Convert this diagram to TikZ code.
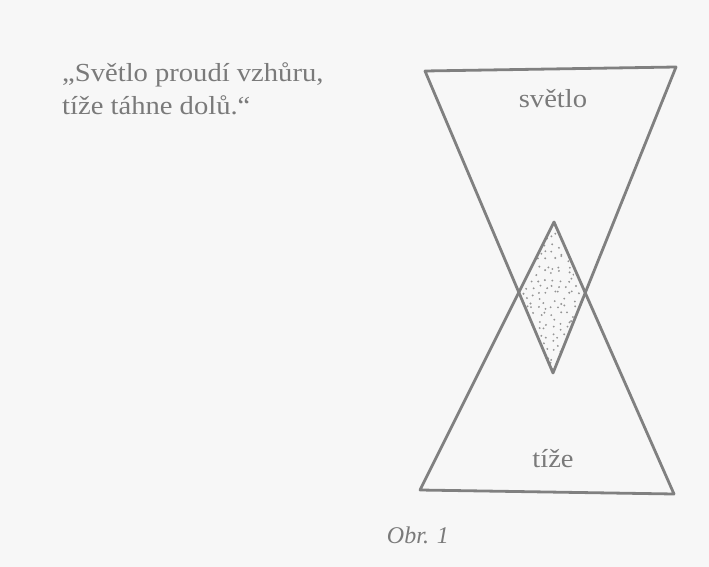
\documentclass[tikz,border=0pt]{standalone}
\usepackage{fontspec}
\setmainfont{Liberation Serif}[FakeStretch=1.1]
\newfontfamily\capfont{Liberation Serif}
\begin{document}
\begin{tikzpicture}[x=1pt,y=-1pt,
  lineink/.style={draw=black!50, line width=2.8pt, line join=round, line cap=round},
  label/.style={text=black!52, font=\fontsize{26}{33}\selectfont, inner sep=0pt},
  dotty/.style={fill=black!42}]
\fill[black!3] (0,0) rectangle (709,567);
\useasboundingbox (0,0) rectangle (709,567);
% key points
\coordinate (tl) at (425,71);
\coordinate (tr) at (676,67);
\coordinate (tapex) at (553,373);
\coordinate (bapex) at (554,222);
\coordinate (bl) at (420,490);
\coordinate (br) at (674,494);
% stipple inside diamond (jittered grid)
\begin{scope}
  \clip (bapex) -- (582,295) -- (tapex) -- (520,295) -- cycle;
  \pgfmathsetseed{5}
  \foreach \gx in {518,525,...,588}{
    \foreach \gy in {224,231,...,372}{
      \pgfmathsetmacro{\px}{\gx+3*rand}
      \pgfmathsetmacro{\py}{\gy+3*rand}
      \fill[dotty] (\px,\py) circle (1.05);
    }
  }
\end{scope}
\draw[lineink] (tl) -- (tr) -- (tapex) -- cycle;
\draw[lineink] (bapex) -- (br) -- (bl) -- cycle;
\node[label, anchor=base] (svetlo) at (553,108) {světlo};
\node[label, anchor=base] (tize) at (553,467) {tíže};
\node[label, anchor=base, font=\fontsize{24}{28}\capfont\itshape] (obr) at (418,543) {Obr. 1};
\node[label, anchor=base west, align=left] (quote) at (62,115)
  {„Světlo proudí vzhůru,\\tíže táhne dolů.“};
\end{tikzpicture}
\end{document}
